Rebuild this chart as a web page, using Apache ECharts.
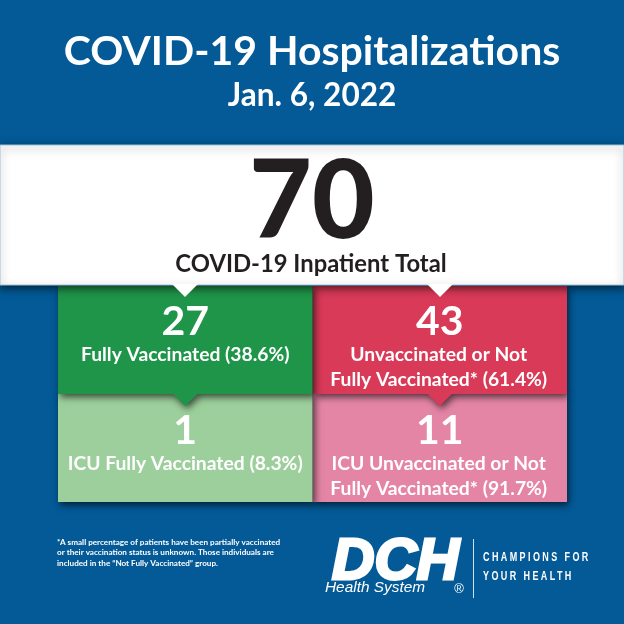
<!DOCTYPE html>
<html>
<head>
<meta charset="utf-8">
<style>html,body{margin:0;padding:0;background:#035a96}#main{width:624px;height:624px}</style>
<script src="https://cdn.jsdelivr.net/npm/echarts@6/dist/echarts.min.js"></script>
</head>
<body>
<div id="main"></div>
<script>
var chartTitle = 'COVID-19 Hospitalizations';
var chartDate = 'Jan. 6, 2022';
var inpatientTotal = 70;
var inpatientLabel = 'COVID-19 Inpatient Total';

var vaccineGroups = ['Fully Vaccinated', 'Unvaccinated or Not Fully Vaccinated'];
var careLevels = ['Inpatient', 'ICU'];
var inpatientCounts = [27, 43];
var icuCounts = [1, 11];
var inpatientLabels = [['Fully Vaccinated (38.6%)'], ['Unvaccinated or Not', 'Fully Vaccinated* (61.4%)']];
var icuLabels = [['ICU Fully Vaccinated (8.3%)'], ['ICU Unvaccinated or Not', 'Fully Vaccinated* (91.7%)']];

var footnoteLines = [
    '*A small percentage of patients have been partially vaccinated',
    'or their vaccination status is unknown. Those individuals are',
    'included in the \u201cNot Fully Vaccinated\u201d group.'
];
var taglineLines = ['CHAMPIONS FOR', 'YOUR HEALTH'];

var BLUE = '#035a96';
var FONT = 'Lato, "Open Sans", sans-serif';
var tileColors = [['#1f9549', '#d93a58'], ['#9ccf9b', '#e585a6']];
var TILE_SHADOW = {shadowBlur: 7, shadowOffsetX: 2, shadowOffsetY: 3, shadowColor: 'rgba(0,0,0,0.65)'};

var counts = [inpatientCounts, icuCounts];
var labels = [inpatientLabels, icuLabels];

// painted back to front, the upper tiles throw their shadow and arrow on the lower ones
var tileData = [];
for (var r = careLevels.length - 1; r >= 0; r--) {
    for (var c = vaccineGroups.length - 1; c >= 0; c--) {
        tileData.push([c, r, counts[r][c]]);
    }
}

function renderTile(params, api) {
    var c = api.value(0), r = api.value(1);
    var center = api.coord([c, r]);
    var size = api.size([1, 1]);
    var x = center[0] - size[0] / 2;
    var y = center[1] - size[1] / 2;
    var color = tileColors[r][c];
    var children = [{
        type: 'rect',
        shape: {x: x, y: y, width: size[0], height: size[1]},
        style: Object.assign({fill: color}, TILE_SHADOW)
    }];
    if (r === 0) {
        children.push({
            type: 'polygon',
            shape: {points: [[center[0] - 13, y + size[1] - 1], [center[0] + 13, y + size[1] - 1], [center[0], y + size[1] + 12]]},
            style: Object.assign({fill: color}, TILE_SHADOW)
        });
        children.push({
            type: 'rect',
            shape: {x: center[0] - 20, y: y + size[1] - 8, width: 40, height: 8},
            style: {fill: color}
        });
    }
    children.push({
        type: 'text',
        style: {
            text: String(api.value(2)), x: center[0], y: y + 36 + r, fill: '#fff',
            font: '700 41px ' + FONT, textAlign: 'center', textVerticalAlign: 'middle'
        }
    });
    labels[r][c].forEach(function (line, i) {
        children.push({
            type: 'text',
            style: {
                text: line, x: center[0] - c, y: y + 69 + r + i * 25, fill: '#fff',
                font: '700 19.3px ' + FONT, textAlign: 'center', textVerticalAlign: 'middle'
            }
        });
    });
    return {type: 'group', children: children};
}

function pointer(cx) {
    return {
        type: 'polygon', z: 101,
        shape: {points: [[cx - 13, 284], [cx + 13, 284], [cx, 297]]},
        style: {fill: '#fff'}
    };
}

function centerText(text, x, y, font, fill) {
    return {
        type: 'text', z: 102, x: x, y: y,
        style: {text: text, fill: fill, font: font, align: 'center', verticalAlign: 'middle'}
    };
}

var graphicItems = [
    {type: 'rect', z: 100, shape: {x: 0, y: 145, width: 624, height: 140},
        style: {fill: '#fff', stroke: '#9cc3dc', lineWidth: 1, shadowBlur: 8, shadowOffsetY: 3, shadowColor: 'rgba(0,0,0,0.6)'}},
    pointer(185),
    pointer(440),
    centerText(String(inpatientTotal), 312, 203, '900 108px ' + FONT, '#231f20'),
    centerText(inpatientLabel, 311, 264, '700 23.8px ' + FONT, '#231f20'),
    // logo
    {type: 'text', z: 102, x: 332, y: 563, scaleX: 1.03,
        style: {text: 'DCH', fill: '#fff', stroke: '#fff', lineWidth: 3, font: 'italic 700 57px "Liberation Sans", sans-serif', align: 'left', verticalAlign: 'middle'}},
    {type: 'text', z: 102, x: 325, y: 588,
        style: {text: 'Health System', fill: '#fff', font: 'italic 400 15.4px "Liberation Sans", sans-serif', align: 'left', verticalAlign: 'middle'}},
    {type: 'text', z: 102, x: 459, y: 589,
        style: {text: '\u00ae', fill: '#fff', font: '400 13px "Liberation Sans", sans-serif', align: 'center', verticalAlign: 'middle'}},
    {type: 'rect', z: 102, shape: {x: 473, y: 539, width: 1, height: 59}, style: {fill: '#cfe0ec'}}
];
footnoteLines.forEach(function (line, i) {
    graphicItems.push({
        type: 'text', z: 102, x: 57, y: 542 + i * 10.7,
        style: {text: line, fill: '#fff', font: '700 8.15px ' + FONT, align: 'left', verticalAlign: 'middle'}
    });
});
taglineLines.forEach(function (line, i) {
    graphicItems.push({
        type: 'text', zlevel: 9, z: 102, x: 483, y: 558 + i * 19, scaleX: 0.75,
        style: {text: line, fill: '#fff', font: '700 12px "Liberation Sans", sans-serif', align: 'left', verticalAlign: 'middle'}
    });
});

var myChart = echarts.init(document.getElementById('main'));
// canvas text has no letter-spacing option, so the tagline gets its own layer with it set
myChart.getZr().painter.getLayer(9).ctx.letterSpacing = '3.2px';

var option = {
    animation: false,
    backgroundColor: BLUE,
    title: [
        {text: chartTitle, left: 'center', top: 26, textStyle: {color: '#fff', fontFamily: FONT, fontWeight: 700, fontSize: 41}},
        {text: chartDate, left: 'center', top: 75, textStyle: {color: '#fff', fontFamily: FONT, fontWeight: 700, fontSize: 31.6}}
    ],
    grid: {left: 58, top: 286, width: 509, height: 216},
    xAxis: {type: 'category', data: vaccineGroups, show: false},
    yAxis: {type: 'category', data: careLevels, inverse: true, show: false},
    series: [{
        type: 'custom',
        renderItem: renderTile,
        data: tileData,
        silent: true
    }],
    graphic: graphicItems
};
myChart.setOption(option);
</script>
</body>
</html>
